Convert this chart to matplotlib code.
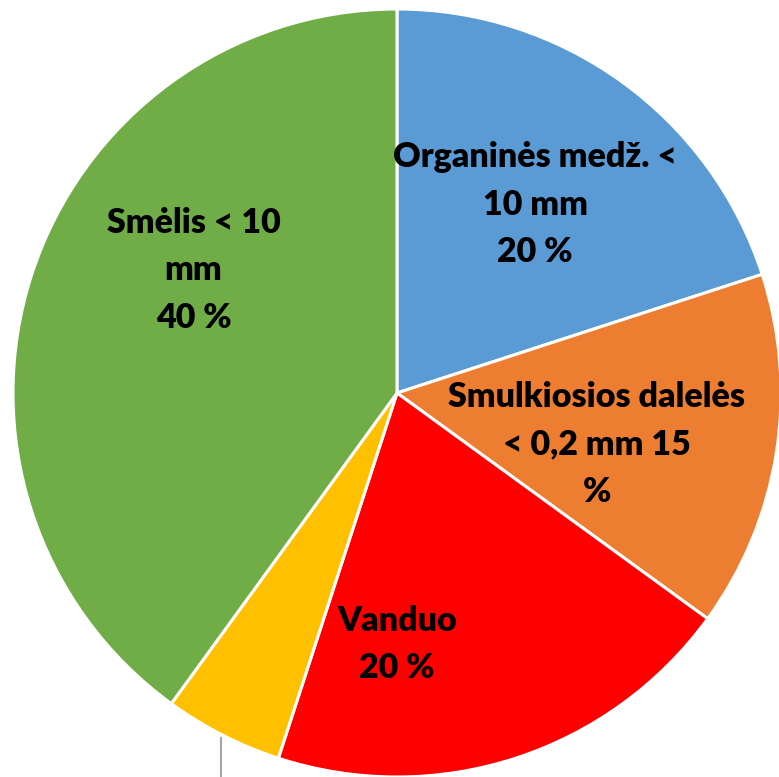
import matplotlib
matplotlib.use("Agg")
import matplotlib.pyplot as plt

# slice data, clockwise from 12 o'clock
categories = ["Organinės medž.\n< 10 mm", "Smulkiosios dalelės\n< 0,2 mm", "Vanduo", "Kita", "Smėlis < 10\nmm"]
values = [20, 15, 20, 5, 40]
label_texts = ["Organinės medž. <\n10 mm\n20 %",
               "Smulkiosios dalelės\n< 0,2 mm 15\n%",
               "Vanduo\n20 %",
               None,
               "Smėlis < 10\nmm\n40 %"]
colors = ["#5B9BD5", "#ED7D31", "#FF0000", "#FFC000", "#70AD47"]

# label placement (fraction of radius) as Excel put them
label_pos = [(0.36, 0.49), (0.52, -0.135), (0.0, -0.655), None, (-0.53, 0.32)]

W, H = 779, 777
cx, cy, r = 397, 393, 384

fig = plt.figure(figsize=(W / 100, H / 100), dpi=100)
ax = fig.add_axes([(cx - r) / W, (H - cy - r) / H, 2 * r / W, 2 * r / H])

wedges, _ = ax.pie(values, colors=colors, startangle=90, counterclock=False,
                   radius=1.0, wedgeprops=dict(edgecolor="white", linewidth=2.2))
ax.set_xlim(-1, 1)
ax.set_ylim(-1, 1)
ax.axis("off")

for txt, pos in zip(label_texts, label_pos):
    if txt is None:
        continue
    ax.text(pos[0], pos[1], txt, ha="center", va="center", fontsize=24.5,
            fontweight="heavy", family="Lato", linespacing=1.6, color="black")

# leader line of the small (cut off) label
ax.plot([-0.458, -0.458], [-0.898, -1.1], color="#A6A6A6", lw=1.5, clip_on=False)

fig.savefig("out.png", dpi=100)
